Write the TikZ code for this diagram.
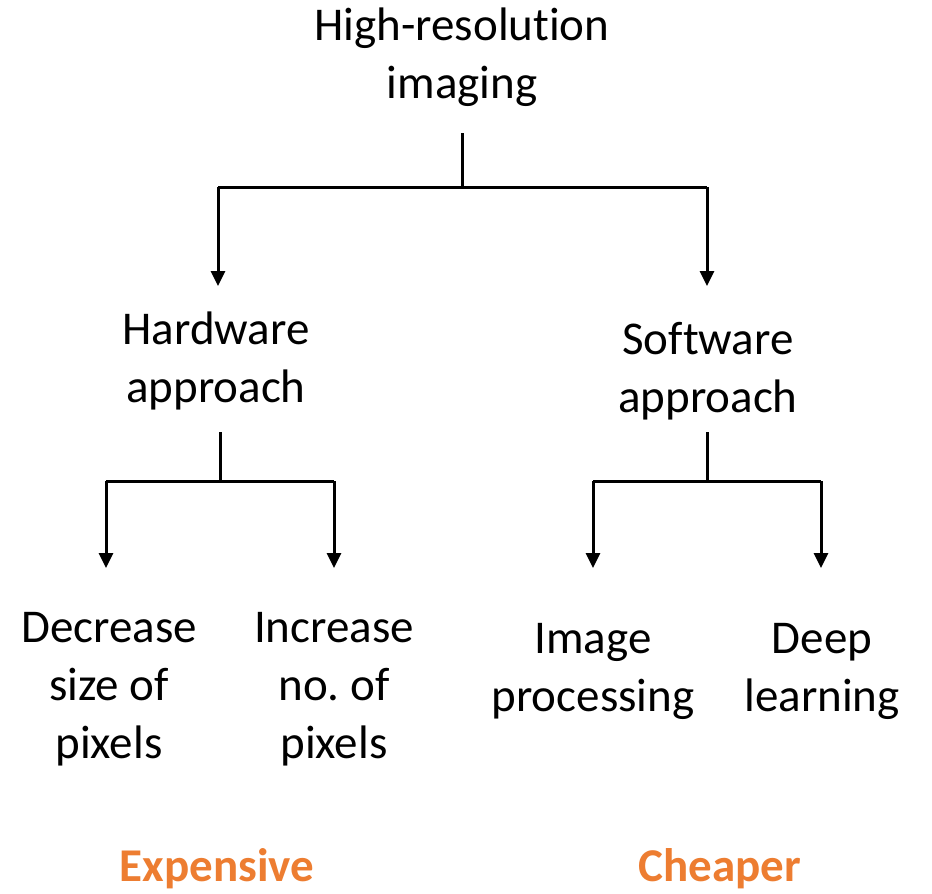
\documentclass[tikz,border=0pt]{standalone}
\usepackage{fontspec}
\setmainfont[Ligatures={NoCommon}]{Carlito}
\frenchspacing
\usetikzlibrary{arrows.meta}
\definecolor{accent}{HTML}{ED7D31}
\begin{document}
\begin{tikzpicture}[x=1pt,y=-1pt,
  label/.style={align=center,inner sep=0pt,font=\fontsize{47}{58}\selectfont},
  tag/.style={inner sep=0pt,text=accent,font=\fontsize{47}{56}\selectfont\bfseries},
  link/.style={line width=3pt},
  branch/.style={line width=3pt,-{Triangle[length=15pt,width=14pt]}}]
\useasboundingbox[fill=white] (0,0) rectangle (932,894);
% labels
\node[label] (root) at (462,57) {High-resolution\\imaging};
\node[label] (hw) at (216,361) {Hardware\\approach};
\node[label] (sw) at (708,371) {Software\\approach};
\node[label] (dec) at (109,689) {Decrease\\size of\\pixels};
\node[label] (inc) at (334,689) {Increase\\no. of\\pixels};
\node[label] (img) at (593,671) {Image\\processing};
\node[label] (dl) at (822,671) {Deep\\learning};
\node[tag] (exp) at (217,869) {Expensive};
\node[tag] (chp) at (720,869) {Cheaper};
% junction points
\coordinate (r0) at (462,133);
\coordinate (r1) at (462,187);
\coordinate (rl) at (218,187);
\coordinate (rr) at (707,187);
\coordinate (rla) at (218,286);
\coordinate (rra) at (707,286);
\coordinate (h0) at (220,432);
\coordinate (h1) at (220,481);
\coordinate (hl) at (106,481);
\coordinate (hr) at (334,481);
\coordinate (hla) at (106,568);
\coordinate (hra) at (334,568);
\coordinate (s0) at (707,432);
\coordinate (s1) at (707,481);
\coordinate (sl) at (593,481);
\coordinate (sr) at (821,481);
\coordinate (sla) at (593,568);
\coordinate (sra) at (821,568);
% tree connectors
\draw[link] (r0) -- (r1);
\draw[link] (rl) -- (rr);
\draw[branch] (rl) -- (rla);
\draw[branch] (rr) -- (rra);
\draw[link] (h0) -- (h1);
\draw[link] (hl) -- (hr);
\draw[branch] (hl) -- (hla);
\draw[branch] (hr) -- (hra);
\draw[link] (s0) -- (s1);
\draw[link] (sl) -- (sr);
\draw[branch] (sl) -- (sla);
\draw[branch] (sr) -- (sra);
\end{tikzpicture}
\end{document}
